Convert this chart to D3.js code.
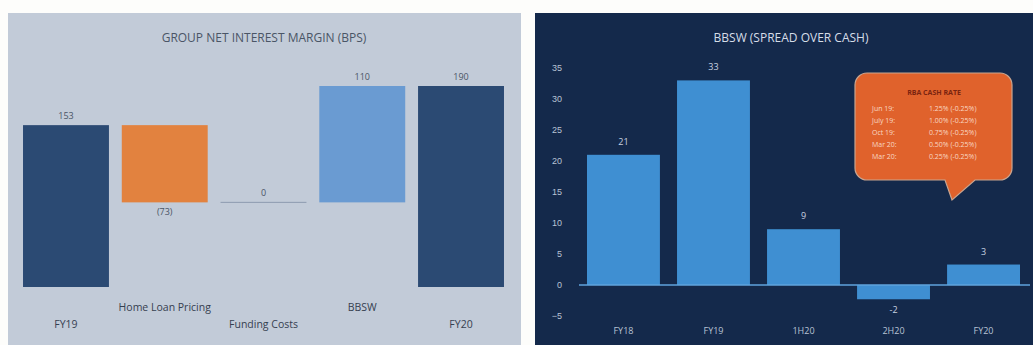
<!DOCTYPE html>
<html>
<head>
<meta charset="utf-8">
<script src="https://cdn.jsdelivr.net/npm/d3@7"></script>
<style>
  body { margin: 0; background: #fdfdfb; }
  svg { display: block; font-family: "Open Sans", "Liberation Sans", sans-serif; }
</style>
</head>
<body>
<svg id="chart" width="1033" height="345"></svg>
<script>
// Left chart: NIM waterfall (bps)
const nimCategories = ["FY19", "Home Loan Pricing", "Funding Costs", "BBSW", "FY20"];
const nimValues = [153, -73, 0, 110, 190];
const nimLabels = ["153", "(73)", "0", "110", "190"];
const nimKinds = ["total", "down", "flat", "up", "total"];

// Right chart: BBSW spread over cash
const bbswCategories = ["FY18", "FY19", "1H20", "2H20", "FY20"];
const bbswValues = [21, 33, 9, -2.3, 3.3];
const bbswLabels = ["21", "33", "9", "-2", "3"];
const bbswTicks = [35, 30, 25, 20, 15, 10, 5, 0, -5];

// Callout box
const rbaDates = ["Jun 19", "July 19", "Oct 19", "Mar 20", "Mar 20"];
const rbaRates = ["1.25% (-0.25%)", "1.00% (-0.25%)", "0.75% (-0.25%)", "0.50% (-0.25%)", "0.25% (-0.25%)"];

const svg = d3.select("#chart");

// ---------- left panel ----------
svg.append("rect").attr("x", 8).attr("y", 13).attr("width", 513).attr("height", 332).attr("fill", "#c2cbd8");

svg.append("text")
    .attr("x", 264).attr("y", 42)
    .attr("text-anchor", "middle")
    .style("font-size", "12px")
    .style("fill", "#4a5566")
    .text("GROUP NET INTEREST MARGIN (BPS)");

const xL = d3.scaleBand().domain(nimCategories).range([16.6, 510.4]).paddingInner(0.13).paddingOuter(0.065);
const yL = d3.scaleLinear().domain([0, 190]).range([287, 86]);

// compute waterfall start/end
let running = 0;
const steps = nimCategories.map((c, i) => {
    let y0, y1;
    if (nimKinds[i] === "total") { y0 = 0; y1 = nimValues[i]; running = nimValues[i]; }
    else { y0 = running; y1 = running + nimValues[i]; running = y1; }
    return { cat: c, y0, y1, kind: nimKinds[i], label: nimLabels[i] };
});

const colorL = { total: "#2b4a73", down: "#e2823f", up: "#6a9bd2", flat: "#8a98ac" };

steps.forEach((d, i) => {
    const top = yL(Math.max(d.y0, d.y1));
    const bot = yL(Math.min(d.y0, d.y1));
    if (d.kind === "flat") {
        svg.append("line")
            .attr("x1", xL(d.cat)).attr("x2", xL(d.cat) + xL.bandwidth())
            .attr("y1", top).attr("y2", top)
            .attr("stroke", "#8d9bb0").attr("stroke-width", 1);
    } else {
        svg.append("rect")
            .attr("x", xL(d.cat)).attr("width", xL.bandwidth())
            .attr("y", top).attr("height", bot - top)
            .attr("fill", colorL[d.kind]);
    }
    const ly = d.kind === "down" ? bot + 13 : top - 6;
    svg.append("text")
        .attr("x", xL(d.cat) + xL.bandwidth() / 2).attr("y", ly)
        .attr("text-anchor", "middle")
        .style("font-size", "9px").style("fill", "#4a5566")
        .text(d.label);
    svg.append("text")
        .attr("x", xL(d.cat) + xL.bandwidth() / 2).attr("y", i % 2 === 0 ? 328 : 311)
        .attr("text-anchor", "middle")
        .style("font-size", "10.5px").style("fill", "#364050")
        .text(d.cat);
});

// ---------- right panel ----------
svg.append("rect").attr("x", 535).attr("y", 13).attr("width", 498).attr("height", 332).attr("fill", "#14294b");

svg.append("text")
    .attr("x", 791).attr("y", 42)
    .attr("text-anchor", "middle")
    .style("font-size", "12px")
    .style("fill", "#d6dde8")
    .text("BBSW (SPREAD OVER CASH)");

const xR = d3.scaleBand().domain(bbswCategories).range([578, 1029]).paddingInner(0.19).paddingOuter(0.1);
const yR = d3.scaleLinear().domain([-5, 35]).range([316, 68]);

const yAxis = svg.append("g")
    .attr("transform", "translate(562,0)")
    .call(d3.axisLeft(yR).tickValues(bbswTicks).tickSize(0).tickPadding(0));
yAxis.select(".domain").remove();
yAxis.selectAll("text").style("font-size", "9px").style("fill", "#b8c3d4").attr("font-family", "inherit");

svg.selectAll(".bbsw")
    .data(bbswValues)
    .enter().append("rect")
    .attr("class", "bbsw")
    .attr("x", (d, i) => xR(bbswCategories[i]))
    .attr("width", xR.bandwidth())
    .attr("y", d => yR(Math.max(0, d)))
    .attr("height", d => Math.abs(yR(d) - yR(0)))
    .attr("fill", "#3f8fd2");

svg.append("line")
    .attr("x1", 579).attr("x2", 1030)
    .attr("y1", yR(0)).attr("y2", yR(0))
    .attr("stroke", "#5fa3dc").attr("stroke-width", 1.5);

bbswValues.forEach((v, i) => {
    const cx = xR(bbswCategories[i]) + xR.bandwidth() / 2;
    svg.append("text")
        .attr("x", cx).attr("y", v >= 0 ? yR(v) - 10 : yR(v) + 14)
        .attr("text-anchor", "middle")
        .style("font-size", "9px").style("fill", "#c8d2e0")
        .text(bbswLabels[i]);
    svg.append("text")
        .attr("x", cx).attr("y", 334)
        .attr("text-anchor", "middle")
        .style("font-size", "9px").style("fill", "#b8c3d4")
        .text(bbswCategories[i]);
});

// callout bubble
const bx = 855, by = 73, bw = 157, bh = 107, r = 12;
const tail = [[945, by + bh], [952, 200], [975, by + bh]];
const path = d3.path();
path.moveTo(bx + r, by);
path.lineTo(bx + bw - r, by);
path.arcTo(bx + bw, by, bx + bw, by + r, r);
path.lineTo(bx + bw, by + bh - r);
path.arcTo(bx + bw, by + bh, bx + bw - r, by + bh, r);
path.lineTo(tail[2][0], tail[2][1]);
path.lineTo(tail[1][0], tail[1][1]);
path.lineTo(tail[0][0], tail[0][1]);
path.lineTo(bx + r, by + bh);
path.arcTo(bx, by + bh, bx, by + bh - r, r);
path.lineTo(bx, by + r);
path.arcTo(bx, by, bx + r, by, r);
path.closePath();
svg.append("path").attr("d", path.toString())
    .attr("fill", "#e0622c").attr("stroke", "#c9a590").attr("stroke-width", 1.2);

svg.append("text")
    .attr("x", 934).attr("y", 95)
    .attr("text-anchor", "middle")
    .style("font-size", "7px").style("font-weight", "bold").style("fill", "#7a2410")
    .text("RBA CASH RATE");

rbaDates.forEach((d, i) => {
    svg.append("text").attr("x", 872).attr("y", 111 + i * 12)
        .style("font-size", "7px").style("fill", "#f8d8c4").text(d + ":");
    svg.append("text").attr("x", 929).attr("y", 111 + i * 12)
        .style("font-size", "7px").style("fill", "#f8d8c4").text(rbaRates[i]);
});
</script>
</body>
</html>
